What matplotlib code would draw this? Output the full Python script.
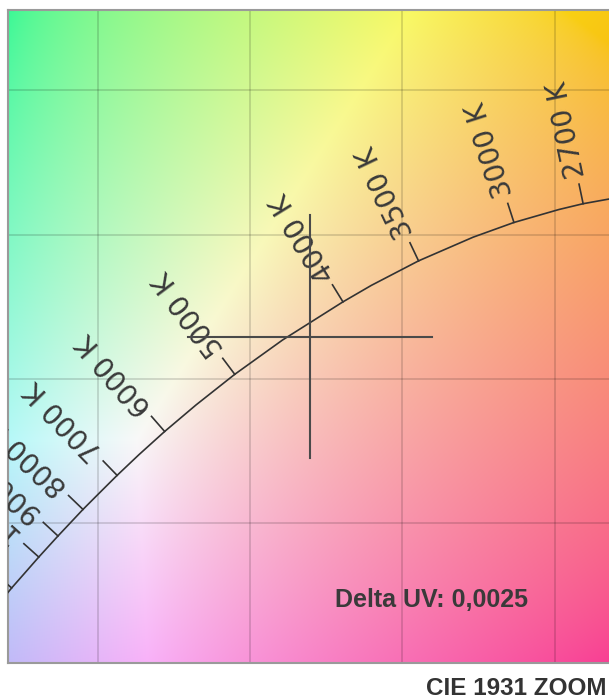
import numpy as np
import matplotlib.pyplot as plt

# planckian locus (CIE 1931 xy), read / tabulated
cct = [2000, 2200, 2400, 2500, 2600, 2700, 2800, 3000, 3200, 3500, 3800, 4000,
       4500, 5000, 5500, 6000, 6500, 7000, 7500, 8000, 9000, 10000, 11000,
       12000, 13000, 15000]
locus_x = [0.5269, 0.5054, 0.4857, 0.4765, 0.4677, 0.4593, 0.4514, 0.4366,
           0.4232, 0.4053, 0.3898, 0.3805, 0.3607, 0.3450, 0.3323, 0.3220,
           0.3135, 0.3064, 0.3004, 0.2952, 0.2870, 0.2807, 0.2758, 0.2718,
           0.2686, 0.2637]
locus_y = [0.4133, 0.4152, 0.4147, 0.4137, 0.4123, 0.4107, 0.4087, 0.4042,
           0.3991, 0.3909, 0.3824, 0.3767, 0.3635, 0.3516, 0.3410, 0.3318,
           0.3237, 0.3166, 0.3103, 0.3048, 0.2956, 0.2883, 0.2824, 0.2776,
           0.2735, 0.2672]
tick_cct = [2700, 3000, 3500, 4000, 5000, 6000, 7000, 8000, 9000, 10000, 12000]

point_x, point_y = 0.3697, 0.3647
cross_dx, cross_dy = 0.040, 0.042
delta_uv = "0,0025"

grid_vals = [0.30, 0.35, 0.40, 0.45]
xlim = (0.2706, 0.4714)
ylim = (0.2516, 0.4778)


def xy_to_rgb(x, y):
    X = x / y
    Y = np.ones_like(x)
    Z = (1 - x - y) / y
    r = 3.2406 * X - 1.5372 * Y - 0.4986 * Z
    g = -0.9689 * X + 1.8758 * Y + 0.0415 * Z
    b = 0.0557 * X - 0.2040 * Y + 1.0570 * Z
    rgb = np.clip(np.stack([r, g, b], axis=-1), 0, None)
    rgb = rgb / rgb.max(axis=-1, keepdims=True)
    rgb = np.where(rgb <= 0.0031308, 12.92 * rgb, 1.055 * rgb ** (1 / 2.4) - 0.055)
    # a bit softer, like the reference
    return rgb * 0.9 + 0.075


fig = plt.figure(figsize=(6.09, 6.99), dpi=100)
ax = fig.add_axes([8 / 609, 36 / 699, 612 / 609, 653 / 699])
ax.set_xlim(*xlim)
ax.set_ylim(*ylim)

gx, gy = np.meshgrid(np.linspace(xlim[0], xlim[1], 300), np.linspace(ylim[0], ylim[1], 300))
ax.imshow(xy_to_rgb(gx, gy), extent=[xlim[0], xlim[1], ylim[0], ylim[1]],
          origin='lower', aspect='auto', interpolation='bilinear', zorder=0)

ax.set_xticks(grid_vals)
ax.set_yticks(grid_vals)
ax.tick_params(length=0, labelbottom=False, labelleft=False)
ax.grid(True, color='black', alpha=0.16, lw=1.2)
for s in ['left', 'top', 'bottom', 'right']:
    ax.spines[s].set_color('#9a9a9a')
    ax.spines[s].set_linewidth(1.5)

ax.plot(locus_x, locus_y, color='#333333', lw=1.2, zorder=3)

# ticks and labels normal to the locus
disp = ax.transData.transform(np.column_stack([locus_x, locus_y]))
tang = -np.gradient(disp, axis=0)
tang /= np.linalg.norm(tang, axis=1, keepdims=True)
norm = np.column_stack([-tang[:, 1], tang[:, 0]])
inv = ax.transData.inverted()
for t in tick_cct:
    i = cct.index(t)
    p, n = disp[i], norm[i]
    a, b = inv.transform([p, p + 20 * n])
    ax.plot([a[0], b[0]], [a[1], b[1]], color='#333333', lw=1.2, zorder=3)
    tx, ty = inv.transform(p + 27 * n)
    ang = np.degrees(np.arctan2(n[1], n[0]))
    ax.text(tx, ty, f"{t} K", rotation=ang, rotation_mode='anchor',
            ha='left', va='center', fontsize=20, color='#3a3a3a',
            family='DejaVu Sans', clip_on=True, zorder=4)

ax.plot([point_x - cross_dx, point_x + cross_dx], [point_y, point_y], color='#4a4a4a', lw=1.5, zorder=5)
ax.plot([point_x, point_x], [point_y - cross_dy, point_y + cross_dy], color='#4a4a4a', lw=1.5, zorder=5)

ax.text(0.534, 0.0858, f"Delta UV: {delta_uv}", transform=ax.transAxes,
        ha='left', va='baseline', fontsize=18, fontweight='bold',
        family='Liberation Sans', color='#3a3a3a', zorder=6)

fig.text(607 / 609, 4 / 699, "CIE 1931 ZOOM", ha='right', va='baseline',
         fontsize=17.5, fontweight='bold', family='Liberation Sans', color='#333333')

fig.savefig('out.png', dpi=100)
